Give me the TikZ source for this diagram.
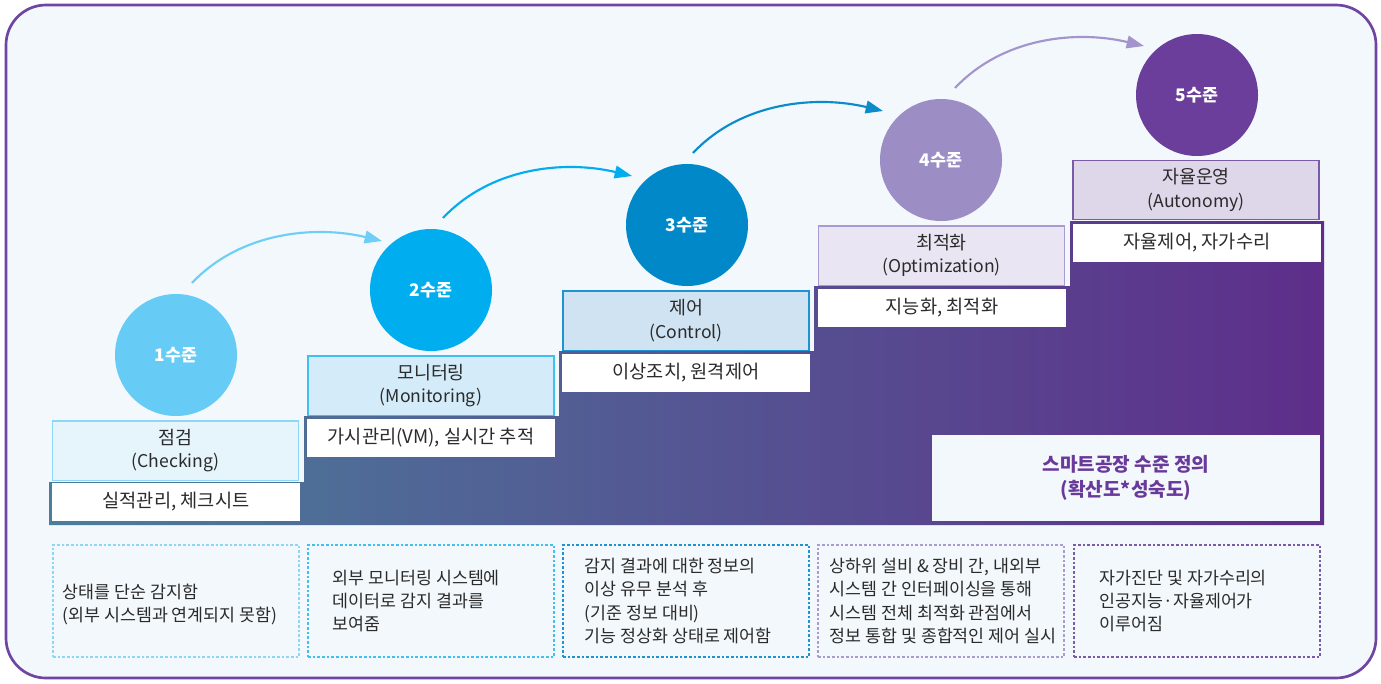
\documentclass[tikz,border=0pt]{standalone}
\usepackage{fontspec}
\setmainfont{Noto Sans CJK KR}
\usetikzlibrary{arrows.meta}
\definecolor{bg}{HTML}{F2F8FC}
\definecolor{frameC}{HTML}{6E45A0}
\definecolor{txt}{HTML}{2B2B2B}
\definecolor{cA}{HTML}{66CCF5}
\definecolor{cB}{HTML}{00AEEF}
\definecolor{cC}{HTML}{0088C8}
\definecolor{cD}{HTML}{9C8DC4}
\definecolor{cE}{HTML}{6A3E9A}
\definecolor{aA}{HTML}{6DCFF6}
\definecolor{aB}{HTML}{00AEEF}
\definecolor{aC}{HTML}{0B8BC9}
\definecolor{aD}{HTML}{A394CB}
\definecolor{fA}{HTML}{E6F4FB}
\definecolor{fB}{HTML}{D4ECF9}
\definecolor{fC}{HTML}{D0E3F2}
\definecolor{fD}{HTML}{E9E5F3}
\definecolor{fE}{HTML}{DED6E9}
\definecolor{bA}{HTML}{8DD6F5}
\definecolor{bB}{HTML}{3FC0EE}
\definecolor{bC}{HTML}{1E93CF}
\definecolor{bD}{HTML}{A99BCF}
\definecolor{bE}{HTML}{7B5BA8}
\definecolor{gL}{HTML}{4A7E9B}
\definecolor{gM}{HTML}{52578F}
\definecolor{gR}{HTML}{5E2E8A}
\definecolor{sumC}{HTML}{6A3A9A}
\newcommand{\lat}[1]{{\fontsize{13.2}{18}\selectfont #1}}
\begin{document}
\begin{tikzpicture}[x=0.75pt,y=-0.75pt,
  lvl/.style={circle,minimum size=91.5pt,inner sep=0pt,text=white,
    font=\fontsize{13}{15}\selectfont\bfseries},
  lblbox/.style={draw=#1,line width=1pt,minimum width=184.5pt,minimum height=44.5pt,
    inner sep=0pt,align=center,text=txt,font=\fontsize{13.8}{17.5}\selectfont},
  whitebox/.style={fill=white,minimum width=186pt,minimum height=28.5pt,inner sep=0pt,
    text=txt,font=\fontsize{14}{18}\selectfont},
  descbox/.style={draw=#1,line width=0.9pt,dash pattern=on 2pt off 1.5pt,
    minimum width=184.5pt,minimum height=84pt,inner sep=0pt},
  desc/.style={anchor=west,inner sep=0pt,align=left,text=txt,
    font=\fontsize{13}{17.5}\selectfont},
  stepArrow/.style={draw=#1,line width=1.6pt,-{Triangle[length=13pt,width=9.5pt]}}
]
\useasboundingbox (0,0) rectangle (1381,683);
\fill[white] (0,0) rectangle (1381,683);
\draw[frameC,line width=2pt,fill=bg,rounded corners=30pt] (6,5) rectangle (1376,678);

% staircase
\shade[left color=gL,middle color=gM,right color=gR]
  (49,482) -- (304,482) -- (304,416) -- (559,416) -- (559,351) -- (814,351)
  -- (814,286) -- (1070,286) -- (1070,221) -- (1324,221) -- (1324,525)
  -- (49,525) -- cycle;

% label boxes
\node[lblbox=bA,fill=fA] (l1) at (175.5,450.5) {점검\\\lat{(Checking)}};
\node[lblbox=bB,fill=fB] (l2) at (431,385.5) {모니터링\\\lat{(Monitoring)}};
\node[lblbox=bC,fill=fC] (l3) at (686,320.5) {제어\\\lat{(Control)}};
\node[lblbox=bD,fill=fD] (l4) at (941.5,255.5) {최적화\\\lat{(Optimization)}};
\node[lblbox=bE,fill=fE] (l5) at (1196,190) {자율운영\\\lat{(Autonomy)}};

% white boxes
\node[whitebox] (w1) at (176,502) {실적관리, 체크시트};
\node[whitebox] (w2) at (431,438) {가시관리(VM), 실시간 추적};
\node[whitebox] (w3) at (686,373) {이상조치, 원격제어};
\node[whitebox] (w4) at (942,308) {지능화, 최적화};
\node[whitebox] (w5) at (1197,243) {자율제어, 자가수리};

% summary box
\node[fill=bg,minimum width=291pt,minimum height=64.5pt,inner sep=0pt,align=center,
  text=sumC,font=\fontsize{14.3}{19}\selectfont\bfseries] (sum) at (1126,478)
  {스마트공장 수준 정의\\(확산도*성숙도)};

% circles
\node[lvl,fill=cA] (c1) at (176,355) {1수준};
\node[lvl,fill=cB] (c2) at (431,290) {2수준};
\node[lvl,fill=cC] (c3) at (687,225) {3수준};
\node[lvl,fill=cD] (c4) at (941,160) {4수준};
\node[lvl,fill=cE] (c5) at (1197,95) {5수준};

% arrows
\draw[stepArrow=aA] ([shift={(16,-72)}]c1.center) .. controls +(48,-51) and +(-67,-16) .. ([shift={(-49,-49)}]c2.center);
\draw[stepArrow=aB] ([shift={(12,-72)}]c2.center) .. controls +(48,-51) and +(-67,-16) .. ([shift={(-55,-49)}]c3.center);
\draw[stepArrow=aC] ([shift={(6,-72)}]c3.center) .. controls +(48,-51) and +(-67,-16) .. ([shift={(-58,-49)}]c4.center);
\draw[stepArrow=aD] ([shift={(14,-72)}]c4.center) .. controls +(48,-51) and +(-67,-16) .. ([shift={(-53,-49)}]c5.center);

% description boxes
\node[descbox=bA] (d1) at (176,601) {};
\node[descbox=bB] (d2) at (431,601) {};
\node[descbox=bC] (d3) at (686,601) {};
\node[descbox=bD] (d4) at (941,601) {};
\node[descbox=bE] (d5) at (1197,601) {};

\node[desc] (t1) at ([xshift=7.5pt,yshift=-2.5pt]d1.west) {상태를 단순 감지함\\(외부 시스템과 연계되지 못함)};
\node[desc] (t2) at ([xshift=18.75pt]d2.west) {외부 모니터링 시스템에\\데이터로 감지 결과를\\보여줌};
\node[desc] (t3) at ([xshift=16.5pt]d3.west) {감지 결과에 대한 정보의\\이상 유무 분석 후\\(기준 정보 대비)\\기능 정상화 상태로 제어함};
\node[desc] (t4) at ([xshift=9pt]d4.west) {상하위 설비 \& 장비 간, 내외부\\시스템 간 인터페이싱을 통해\\시스템 전체 최적화 관점에서\\정보 통합 및 종합적인 제어 실시};
\node[desc] (t5) at ([xshift=19.5pt]d5.west) {자가진단 및 자가수리의\\인공지능·자율제어가\\이루어짐};
\end{tikzpicture}
\end{document}
